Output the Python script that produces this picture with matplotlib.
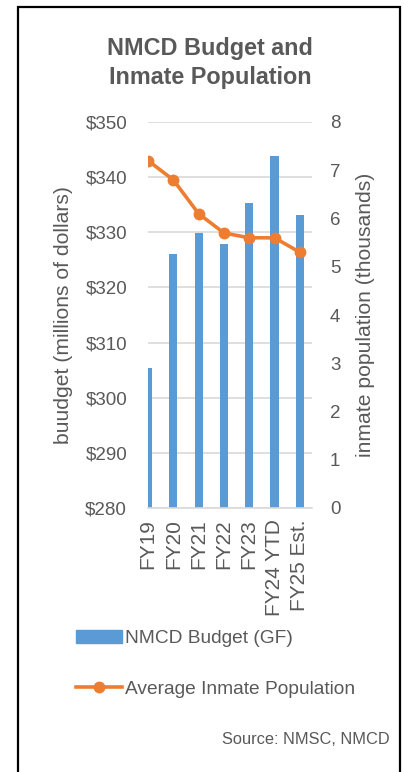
import matplotlib
matplotlib.use('Agg')
import matplotlib.pyplot as plt
from matplotlib.patches import Rectangle, Patch
from matplotlib.lines import Line2D

plt.rcParams['font.family'] = ['Liberation Sans', 'DejaVu Sans']

# data
years = ['FY19', 'FY20', 'FY21', 'FY22', 'FY23', 'FY24 YTD', 'FY25 Est.']
budget = [305.4, 326.1, 329.8, 327.8, 335.3, 343.8, 333.1]   # millions of dollars
inmates = [7.2, 6.8, 6.1, 5.7, 5.6, 5.6, 5.3]                # thousands

gray = '#595959'
blue = '#5b9bd5'
orange = '#ed7d31'
grid = '#d9d9d9'

fig = plt.figure(figsize=(4.04, 7.72), dpi=100)
ax = fig.add_axes([148/404, 1-508/772, 164/404, 386/772])
ax2 = ax.twinx()

x = list(range(len(years)))
ax.bar(x, budget, width=0.32, color=blue, bottom=0, zorder=2)
ax.set_ylim(280, 350)
ax.set_yticks(range(280, 351, 10))
ax.set_yticklabels(['$%d' % v for v in range(280, 351, 10)])
ax.set_xlim(0, 6.48)
ax.set_xticks(x)
ax.set_xticklabels(years, rotation=90)
ax.yaxis.grid(True, color=grid, lw=1.2, zorder=0)
ax.set_axisbelow(True)

ax2.plot(x, inmates, color=orange, lw=2.6, marker='o', ms=7.5, zorder=3)
ax2.set_ylim(0, 8)
ax2.set_yticks(range(0, 9))

for a in (ax, ax2):
    for s in a.spines.values():
        s.set_visible(False)
ax.spines['bottom'].set_visible(True)
ax.spines['bottom'].set_color(grid)
ax.spines['bottom'].set_linewidth(1.2)

ax.tick_params(axis='y', length=0, pad=15, labelsize=13.5, colors=gray)
ax.tick_params(axis='x', length=0, pad=8, labelsize=15, colors=gray)
ax2.tick_params(axis='y', length=0, pad=13, labelsize=13.5, colors=gray)

ax.set_ylabel('buudget (millions of dollars)', fontsize=15.2, color=gray, labelpad=9)
ax2.set_ylabel('inmate population (thousands)', fontsize=15.2, color=gray, labelpad=11)

fig.text(210/404, 1-63/772, 'NMCD Budget and\nInmate Population', ha='center', va='center',
         fontsize=16.8, fontweight='bold', color=gray, linespacing=1.35)

handles = [Patch(color=blue), Line2D([], [], color=orange, lw=2.6, marker='o', ms=7.5)]
fig.legend(handles, ['NMCD Budget (GF)', 'Average Inmate Population'],
           loc='upper left', bbox_to_anchor=(66/404, 1-620/772), frameon=False,
           fontsize=13.8, labelcolor=gray, handlelength=2.4, handletextpad=0.2,
           labelspacing=1.75, borderpad=0)

fig.text(390/404, 1-740/772, 'Source: NMSC, NMCD', ha='right', va='center',
         fontsize=11.8, color=gray)

fig.patches.append(Rectangle((18/404, -10/772), 382/404, 775/772, transform=fig.transFigure,
                             fill=False, edgecolor='black', lw=1.6))

fig.savefig('out.png', dpi=100)
